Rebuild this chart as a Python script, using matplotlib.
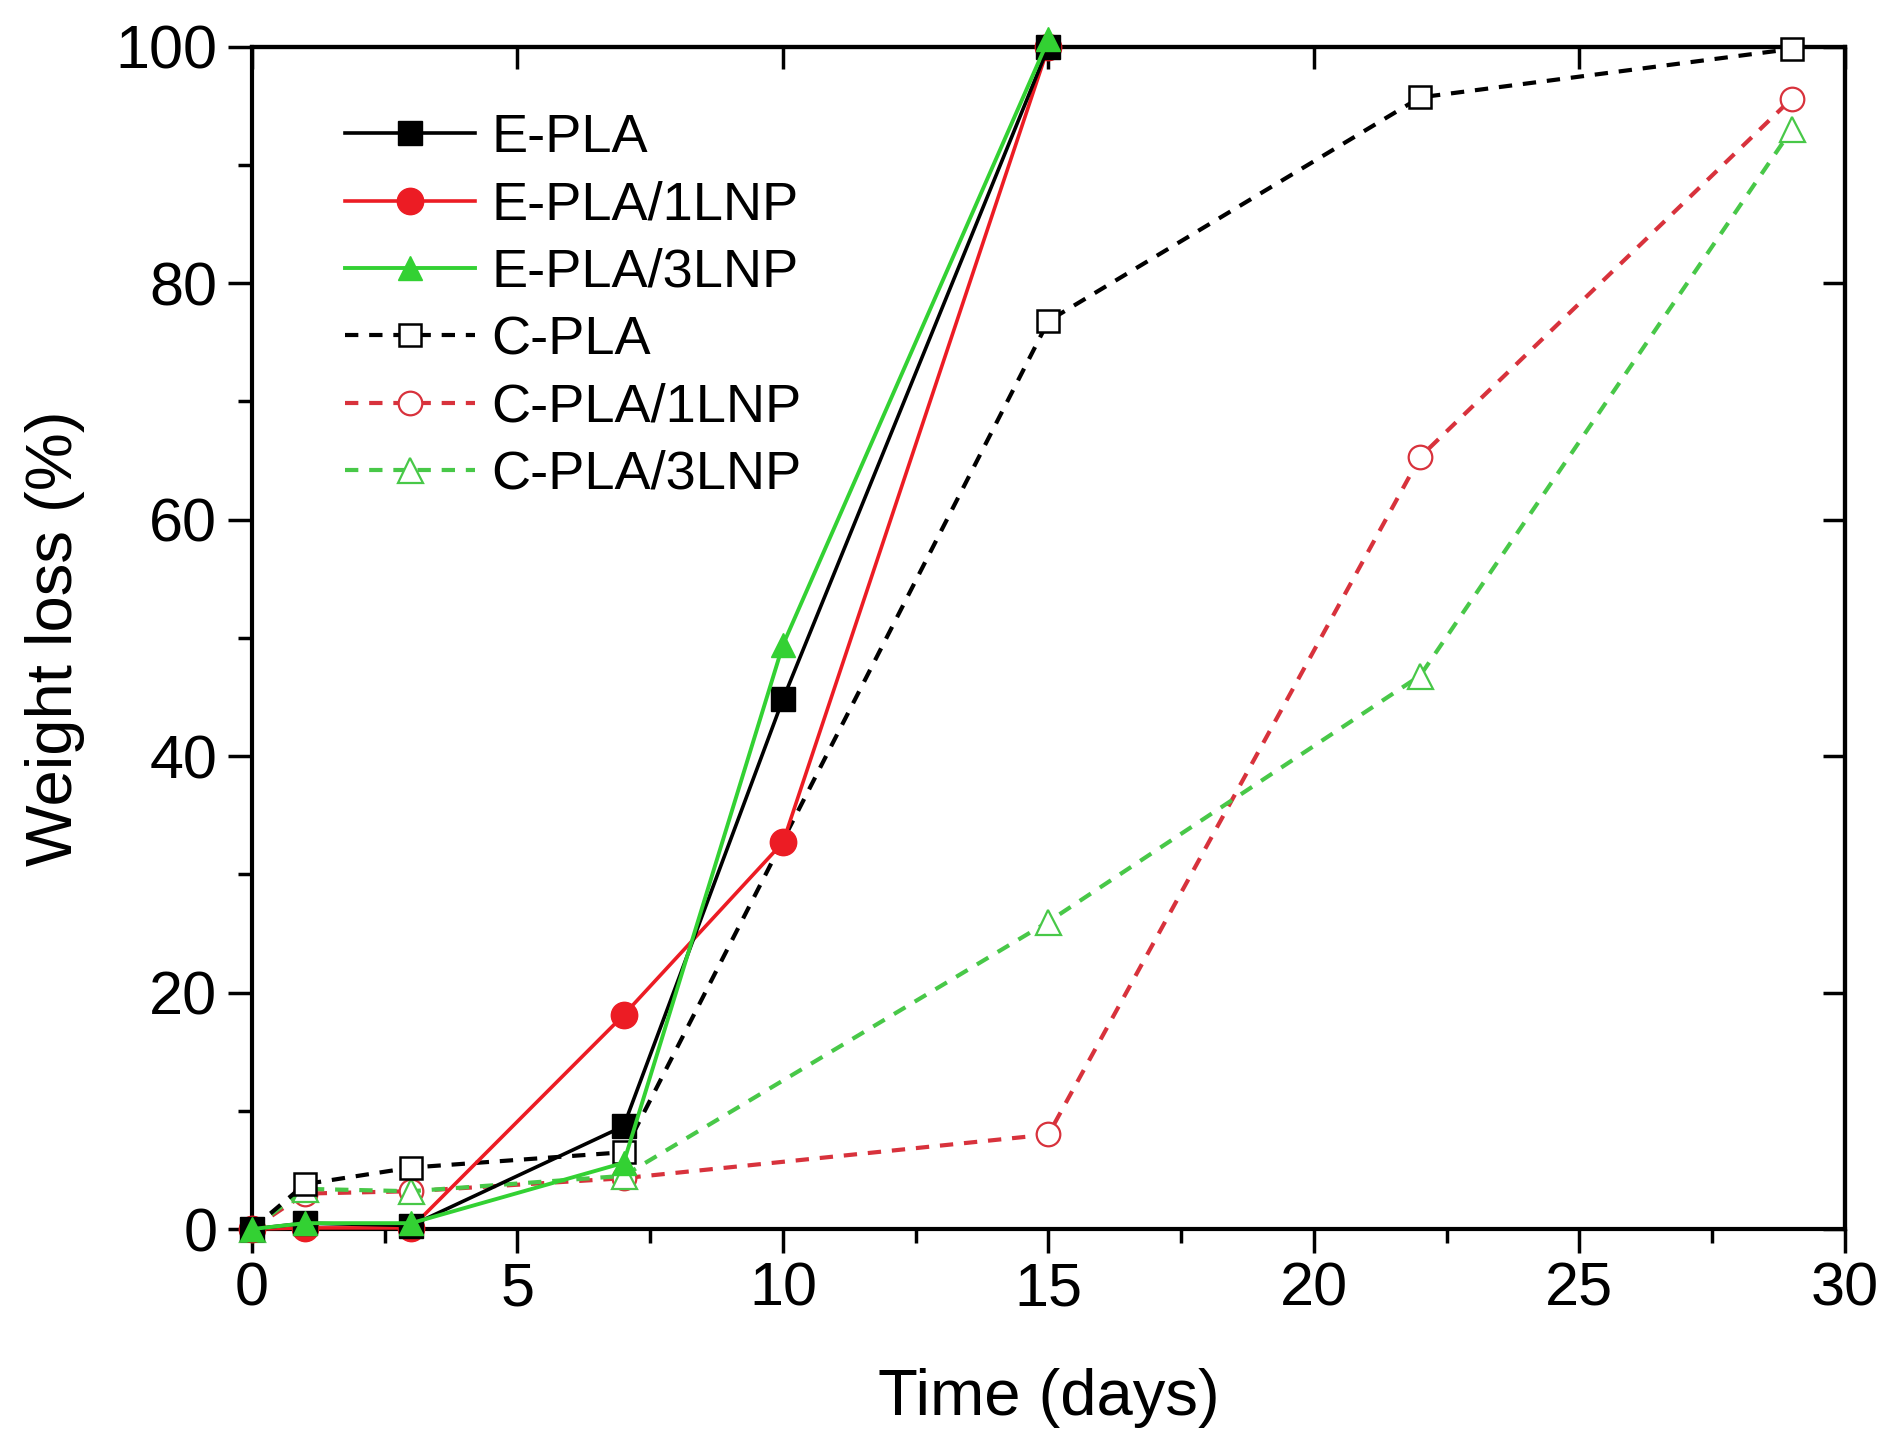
import matplotlib
matplotlib.use("Agg")
import matplotlib.pyplot as plt

plt.rcParams['font.family'] = ['Liberation Sans', 'DejaVu Sans']

# ---- data ----
days_E = [0, 1, 3, 7, 10, 15]
days_C = [0, 1, 3, 7, 15, 22, 29]

E_PLA = [0, 0.5, 0.3, 8.7, 44.8, 100]
E_PLA_1LNP = [0, 0.1, 0.1, 18.1, 32.7, 100]
E_PLA_3LNP = [0, 0.5, 0.5, 5.6, 49.4, 100.6]

C_PLA = [0, 3.8, 5.2, 6.5, 76.8, 95.7, 99.8]
C_PLA_1LNP = [0, 3.0, 3.2, 4.3, 8.0, 65.3, 95.6]
C_PLA_3LNP = [0, 3.4, 3.2, 4.5, 26.0, 46.8, 93.0]

labels = ["E-PLA", "E-PLA/1LNP", "E-PLA/3LNP", "C-PLA", "C-PLA/1LNP", "C-PLA/3LNP"]
x_ticks = [0, 5, 10, 15, 20, 25, 30]
y_ticks = [0, 20, 40, 60, 80, 100]

# ---- figure ----
fig = plt.figure(figsize=(18.83, 14.37), dpi=100)
ax = fig.add_axes([0.1338, 0.1447, 0.9798 - 0.1338, 0.9676 - 0.1447])

black = "#000000"
red = "#ec1c24"
green = "#33d133"
red_d = "#d8323c"
green_d = "#48c848"
dash = (0, (3.2, 2.6))

h = {}
h[0], = ax.plot(days_E, E_PLA, '-', color=black, lw=2.6, marker='s', ms=17,
                mfc=black, mec=black, zorder=5.5, clip_on=False)
h[1], = ax.plot(days_E, E_PLA_1LNP, '-', color=red, lw=2.6, marker='o', ms=19,
                mfc=red, mec=red, zorder=4.5, clip_on=False)
h[2], = ax.plot(days_E, E_PLA_3LNP, '-', color=green, lw=2.8, marker='^', ms=17,
                mfc=green, mec=green, zorder=6, clip_on=False)
h[3], = ax.plot(days_C, C_PLA, linestyle=dash, color=black, lw=3, marker='s', ms=16,
                mfc='white', mec=black, mew=1.8, zorder=4, clip_on=False)
h[4], = ax.plot(days_C, C_PLA_1LNP, linestyle=dash, color=red_d, lw=3, marker='o', ms=17,
                mfc='white', mec=red_d, mew=1.6, zorder=3, clip_on=False)
h[5], = ax.plot(days_C, C_PLA_3LNP, linestyle=dash, color=green_d, lw=3, marker='^', ms=18,
                mfc='white', mec=green_d, mew=1.6, zorder=3, clip_on=False)

ax.set_xlim(0, 30)
ax.set_ylim(0, 100)
ax.set_xticks(x_ticks)
ax.set_yticks(y_ticks)
ax.set_xticks([2.5, 7.5, 12.5, 17.5, 22.5, 27.5], minor=True)
ax.set_yticks([10, 30, 50, 70, 90], minor=True)

for s in ax.spines.values():
    s.set_linewidth(3)

ax.tick_params(which='major', direction='out', length=17, width=2.5,
               labelsize=44, pad=6, top=False, right=False)
ax.tick_params(which='minor', direction='out', length=10, width=2.5,
               top=False, right=False)
ax.tick_params(axis='y', which='major', pad=8)

sx = ax.secondary_xaxis('top')
sx.set_xticks(x_ticks)
sx.tick_params(direction='in', length=16, width=2.5, labeltop=False)
sx.spines['top'].set_linewidth(3)
sy = ax.secondary_yaxis('right')
sy.set_yticks(y_ticks)
sy.tick_params(direction='in', length=16, width=2.5, labelright=False)
sy.spines['right'].set_linewidth(3)

ax.set_xlabel("Time (days)", fontsize=47, labelpad=36)
ax.set_ylabel("Weight loss (%)", fontsize=47, labelpad=22)

leg = ax.legend([h[i] for i in range(6)], labels, loc='upper left',
                bbox_to_anchor=(0.045, 0.962), frameon=False, fontsize=39,
                handlelength=2.4, handletextpad=0.3, labelspacing=0.32,
                borderaxespad=0)

fig.savefig("out.png", dpi=100)
